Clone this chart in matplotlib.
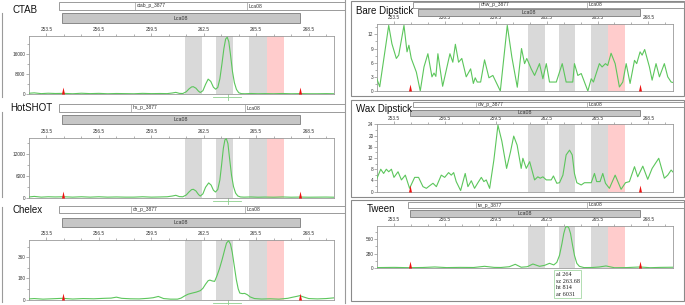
import numpy as np
import matplotlib
matplotlib.use("Agg")
import matplotlib.pyplot as plt
from matplotlib.patches import Rectangle
from matplotlib.lines import Line2D

plt.rcParams['font.family'] = ['Liberation Sans', 'DejaVu Sans']

# ---- shared axis data ----
x_range = (252.5, 269.95)
xtick_vals = [253.5, 256.5, 259.5, 262.5, 265.5, 268.5]
gray_bins = [(261.4, 262.4), (263.2, 264.2), (265.1, 266.1)]
pink_bin = (266.1, 267.1)
ladder_x = [254.42, 267.98]
ruler = (263.05, 264.65, 263.87)

# ---- traces ----
ctab_x = [252.5, 252.8, 253.2, 253.6, 254.0, 254.5, 255.0, 255.5, 256.0, 256.5,
          257.0, 257.5, 258.0, 258.5, 259.0, 259.5, 260.0, 260.4, 260.7, 260.9,
          261.1, 261.3, 261.5, 261.65, 261.8, 261.9, 262.05, 262.2, 262.3, 262.45,
          262.6, 262.75, 262.9, 263.05, 263.18, 263.3, 263.42, 263.54, 263.65, 263.75,
          263.84, 263.93, 264.03, 264.14, 264.25, 264.37, 264.5, 264.65, 264.85, 265.2,
          265.6, 266.0, 266.5, 267.0, 267.5, 268.0, 268.5, 269.0, 269.5, 269.95]
ctab_y = [300, 450, 150, 300, 200, 250, 100, 300, 150, 250,
          100, 200, 150, 100, 250, 150, 200, 150, 400, 650,
          250, 200, 900, 2000, 2800, 2900, 2300, 1100, 600, 1300,
          3800, 5900, 5000, 2700, 1900, 2600, 6000, 12000, 18000, 21800,
          22500, 20800, 15500, 9000, 4500, 1800, 500, 150, 100, 200,
          100, 150, 100, 200, 100, 150, 100, 100, 150, 100]

hs_x = [252.5, 252.8, 253.2, 253.6, 254.0, 254.5, 255.0, 255.5, 256.0, 256.5,
        257.0, 257.5, 258.0, 258.5, 259.0, 259.5, 260.0, 260.4, 260.7, 260.9,
        261.1, 261.3, 261.5, 261.65, 261.8, 261.9, 262.05, 262.2, 262.3, 262.45,
        262.6, 262.78, 262.92, 263.05, 263.17, 263.3, 263.42, 263.52, 263.62, 263.71,
        263.79, 263.88, 263.98, 264.09, 264.2, 264.32, 264.45, 264.6, 264.8, 265.2,
        265.6, 266.0, 266.5, 267.0, 267.5, 268.0, 268.5, 269.0, 269.5, 269.95]
hs_y = [150, 300, 100, 200, 150, 200, 100, 200, 100, 200,
        100, 150, 100, 100, 200, 100, 150, 200, 400, 600,
        250, 200, 700, 1500, 2150, 2250, 1800, 800, 400, 1000,
        2800, 4000, 3400, 2000, 1500, 2200, 4800, 9000, 13500, 15800,
        16100, 14800, 10500, 6000, 3000, 1200, 400, 150, 100, 150,
        80, 120, 80, 150, 80, 120, 80, 100, 120, 80]

ch_x = [252.5, 252.8, 253.3, 253.8, 254.4, 255.0, 255.6, 256.2, 256.8, 257.2,
        257.5, 257.8, 258.3, 258.8, 259.3, 259.6, 259.9, 260.2, 260.6, 261.0,
        261.2, 261.4, 261.6, 261.85, 262.07, 262.3, 262.45, 262.6, 262.75, 262.85,
        262.98, 263.12, 263.25, 263.4, 263.55, 263.69, 263.8, 263.92, 264.03, 264.13,
        264.25, 264.36, 264.47, 264.56, 264.7, 264.84, 265.0, 265.15, 265.4, 265.8,
        266.3, 266.8, 267.3, 267.6, 267.8, 268.0, 268.2, 268.5, 269.0, 269.5, 269.95]
ch_y = [5, 8, 3, 6, 10, 4, 8, 6, 10, 12,
        20, 10, 6, 5, 10, 15, 26, 8, 3, 3,
        12, 30, 45, 55, 63, 75, 95, 130, 160, 165,
        158, 154, 200, 263, 340, 420, 480, 500, 470, 400,
        280, 170, 90, 55, 50, 52, 40, 22, 8, 4,
        6, 3, 10, 20, 26, 33, 22, 8, 5, 8, 14]

bd_x = [252.46, 252.66, 253.19, 253.38, 253.64, 253.78, 254.09, 254.27, 254.38, 254.52,
        254.82, 255.05, 255.27, 255.5, 255.74, 255.86, 255.97, 256.09, 256.37, 256.8,
        256.97, 257.12, 257.31, 257.5, 257.76, 258.02, 258.18, 258.29, 258.41, 258.61,
        258.84, 259.1, 259.33, 259.77, 260.18, 260.45, 260.77, 261.02, 261.2, 261.33,
        261.59, 261.79, 262.08, 262.28, 262.48, 262.67, 263.07, 263.42, 263.65, 264.04,
        264.14, 264.34, 264.54, 264.73, 264.93, 265.13, 265.26, 265.42, 265.61, 265.77,
        265.97, 266.1, 266.3, 266.54, 266.79, 266.99, 267.19, 267.42, 267.68, 267.81,
        268.01, 268.13, 268.28, 268.56, 268.72, 268.95, 269.15, 269.44, 269.64, 269.84, 269.95]
bd_y = [2.9, 0.9, 13.9, 10.0, 6.9, 7.6, 13.9, 8.3, 9.7, 6.9,
        4.0, 0.0, 5.1, 7.9, 3.0, 3.8, 3.1, 7.9, 1.0, 7.9,
        6.1, 9.9, 6.1, 6.9, 3.0, 4.7, 1.6, 2.8, 1.9, 1.9,
        6.6, 2.8, 3.3, 0.0, 13.9, 7.2, 0.8, 9.0, 5.8, 6.9,
        4.7, 3.3, 5.8, 2.6, 5.8, 1.9, 1.9, 5.8, 1.9, 1.9,
        5.8, 3.3, 3.7, 1.9, 0.0, 2.6, 1.9, 3.7, 5.8, 5.1,
        5.8, 5.4, 8.0, 5.8, 0.85, 1.9, 5.8, 1.6, 6.5, 5.8,
        8.3, 7.6, 8.8, 5.1, 2.3, 5.8, 3.0, 5.8, 3.0, 1.9, 1.8]

wd_x = [252.46, 252.72, 252.89, 253.05, 253.19, 253.35, 253.5, 253.74, 253.94, 254.17,
        254.42, 254.72, 254.95, 255.21, 255.41, 255.6, 255.8, 256.0, 256.29, 256.49,
        256.72, 256.88, 257.02, 257.17, 257.43, 257.7, 257.86, 258.06, 258.25, 258.45,
        258.65, 258.8, 258.94, 259.14, 259.39, 259.63, 259.86, 260.14, 260.37, 260.56,
        260.76, 261.0, 261.1, 261.3, 261.5, 261.79, 261.98, 262.12, 262.28, 262.48,
        262.77, 262.9, 263.1, 263.26, 263.46, 263.65, 263.85, 264.01, 264.14, 264.28,
        264.54, 264.73, 265.13, 265.32, 265.45, 265.65, 265.81, 265.97, 266.2, 266.54,
        266.89, 267.15, 267.38, 267.68, 267.87, 268.17, 268.46, 268.72, 269.11, 269.44,
        269.64, 269.84, 269.95]
wd_y = [4.2, 8.0, 6.5, 8.0, 7.1, 8.0, 5.1, 7.1, 4.2, 5.9,
        1.2, 5.1, 5.1, 1.8, 1.2, 2.1, 3.0, 1.8, 5.9, 5.1,
        6.8, 5.9, 6.8, 3.6, 0.4, 6.5, 1.8, 3.9, 1.2, 3.2,
        5.1, 3.6, 4.2, 1.2, 11.3, 23.7, 18.0, 8.3, 14.2, 19.8,
        16.6, 8.3, 11.9, 8.3, 10.7, 4.2, 5.3, 4.8, 5.3, 4.2,
        4.2, 5.6, 3.0, 3.2, 5.9, 13.1, 14.8, 13.1, 6.5, 3.2,
        2.4, 3.2, 3.2, 6.5, 3.6, 3.6, 6.5, 3.0, 1.2, 5.9,
        0.85, 3.2, 3.6, 8.9, 5.3, 9.1, 4.4, 8.3, 11.9, 4.8,
        5.9, 7.7, 7.0]

tw_x = [252.5, 253.5, 254.4, 255.2, 255.9, 256.6, 257.4, 258.2, 258.84, 259.4,
        259.8, 260.3, 260.65, 261.0, 261.36, 261.69, 262.08, 262.38, 262.67, 262.92,
        263.1, 263.26, 263.4, 263.51, 263.61, 263.71, 263.81, 263.91, 264.02, 264.14,
        264.28, 264.43, 264.7, 265.2, 265.6, 266.0, 266.5, 267.2, 268.0, 268.6,
        269.2, 269.95]
tw_y = [8, 12, 6, 10, 20, 8, 12, 10, 33, 12,
        10, 25, 72, 15, 25, 78, 33, 52, 91, 60,
        110, 248, 470, 672, 790, 814, 780, 672, 460, 248,
        90, 33, 8, 10, 20, 40, 5, 8, 20, 6,
        12, 15]
tw_peak_info = ['al 264', 'sz 263.68', 'ht 814', 'ar 6031']

panels = [
    dict(title='CTAB', sample='ctab_p_3877', x=ctab_x, y=ctab_y, ymax=23000,
         yticks=[0, 8000, 16000], yminor=4000, plot=(29, 36, 334, 94),
         tpos=(12.5, 10), bar=(59, 2, 345, 10), seps=(135, 247),
         gbar=(62, 13, 300, 23), ruler=True, box=None),
    dict(title='HotSHOT', sample='hs_p_3877', x=hs_x, y=hs_y, ymax=16300,
         yticks=[0, 6000, 12000], yminor=3000, plot=(29, 138, 334, 197.5),
         tpos=(10, 107.5), bar=(59, 104, 345, 112), seps=(131, 245),
         gbar=(62, 114.5, 300, 124), ruler=True, box=None),
    dict(title='Chelex', sample='ch_p_3877', x=ch_x, y=ch_y, ymax=506,
         yticks=[0, 180, 360], yminor=90, plot=(29, 240, 334, 299.5),
         tpos=(12.5, 210), bar=(59, 205.5, 345, 213), seps=(131, 245),
         gbar=(62, 217.5, 300, 227), ruler=True, box=None),
    dict(title='Bare Dipstick', sample='dnw_p_3877', x=bd_x, y=bd_y, ymax=14.2,
         yticks=[0, 3, 6, 9, 12], yminor=1.5, plot=(377, 24, 673, 91),
         tpos=(356, 10.5), bar=(413, 1.5, 684, 7.5), seps=(479, 587),
         gbar=(418, 9, 640, 16), ruler=False, box=(351, 0.7, 684, 96)),
    dict(title='Wax Dipstick', sample='dw_p_3877', x=wd_x, y=wd_y, ymax=24,
         yticks=[0, 4, 8, 12, 16, 20, 24], yminor=2, plot=(377, 124.3, 673, 191.7),
         tpos=(356, 108.5), bar=(413, 101.7, 684, 107.3), seps=(476, 587),
         gbar=(410, 109.5, 640, 115.7), ruler=False, box=(351, 100, 684, 197)),
    dict(title='Tween', sample='tw_p_3877', x=tw_x, y=tw_y, ymax=825,
         yticks=[0, 280, 560], yminor=140, plot=(377, 225.7, 673, 268),
         tpos=(367, 208.5), bar=(408, 202.3, 684, 207.7), seps=(476, 587),
         gbar=(410, 210, 640, 216.7), ruler=False, box=(351, 200, 684, 301)),
]

W, H = 685, 305
fig = plt.figure(figsize=(W / 100, H / 100), dpi=100)


def fx(x):
    return x / W


def fy(y):
    return 1 - y / H


def rect(x0, y0, x1, y1, fc='none', ec='#9a9a9a', lw=0.6, z=1):
    fig.add_artist(Rectangle((fx(x0), fy(y1)), fx(x1) - fx(x0), fy(y0) - fy(y1),
                             transform=fig.transFigure, facecolor=fc,
                             edgecolor=ec, linewidth=lw, zorder=z))


def line(xs, ys, color='#9a9a9a', lw=0.6):
    fig.add_artist(Line2D([fx(v) for v in xs], [fy(v) for v in ys],
                          transform=fig.transFigure, color=color, linewidth=lw))


# left column frame lines
line([345, 345], [0, 303], lw=0.8)
for ya, yb in [(13, 97), (112, 197), (207, 302)]:
    line([1.5, 1.5], [ya, yb], lw=0.8)

tri = [(-0.65, 0), (0.65, 0), (0, 3)]
green = '#5cc65c'

for p in panels:
    if p['box']:
        rect(*p['box'], ec='#8a8a8a', lw=0.8)
    # top sample bar
    bx0, by0, bx1, by1 = p['bar']
    rect(bx0, by0, bx1, by1, fc='white', ec='#8a8a8a', lw=0.6)
    for s in p['seps']:
        line([s, s], [by0, by1], lw=0.5)
    fig.text(fx(p['seps'][0] + 2), fy((by0 + by1) / 2), p['sample'], fontsize=3.6,
             va='center', ha='left', color='#333333')
    fig.text(fx(p['seps'][1] + 2), fy((by0 + by1) / 2), 'Lca08', fontsize=3.6,
             va='center', ha='left', color='#333333')
    # marker bar
    gx0, gy0, gx1, gy1 = p['gbar']
    rect(gx0, gy0, gx1, gy1, fc='#c6c6c6', ec='#7a7a7a', lw=0.6)
    fig.text(fx((gx0 + gx1) / 2), fy((gy0 + gy1) / 2), 'Lca08', fontsize=3.8,
             va='center', ha='center', color='#333333')
    # title
    fig.text(fx(p['tpos'][0]), fy(p['tpos'][1]), p['title'], fontsize=7,
             va='center', ha='left', color='#111111', zorder=5)

    x0, y0, x1, y1 = p['plot']
    ax = fig.add_axes([fx(x0), fy(y1), fx(x1) - fx(x0), fy(y0) - fy(y1)])
    for lo, hi in gray_bins:
        ax.axvspan(lo, hi, color='#d9d9d9', lw=0, zorder=0)
    ax.axvspan(pink_bin[0], pink_bin[1], color='#ffcccc', lw=0, zorder=0)
    ax.plot(p['x'], p['y'], color=green, lw=0.8, zorder=3)
    ax.plot(ladder_x, [0] * len(ladder_x), ls='none', marker=tri, ms=10,
            color='#ee1111', mew=0, clip_on=False, zorder=4)
    if p['ruler']:
        tr = ax.get_xaxis_transform()
        ax.plot([ruler[0], ruler[1]], [-0.06, -0.06], color='#8fd08f', lw=0.6,
                transform=tr, clip_on=False)
        ax.plot([ruler[2], ruler[2]], [0, -0.11], color='#8fd08f', lw=0.6,
                transform=tr, clip_on=False)

    ax.set_xlim(*x_range)
    ax.set_ylim(0, p['ymax'])
    ax.xaxis.tick_top()
    ax.set_xticks(xtick_vals)
    ax.set_xticklabels([f'{v:.1f}' for v in xtick_vals])
    ax.set_xticks(np.arange(253.5, 270, 1.0), minor=True)
    ax.set_yticks(p['yticks'])
    ax.set_yticks(np.arange(0, p['ymax'], p['yminor']), minor=True)
    ax.tick_params(axis='both', which='major', length=2, width=0.4, pad=0.6,
                   labelsize=3.4, colors='#777777', labelcolor='#333333')
    ax.tick_params(axis='both', which='minor', length=1.2, width=0.4,
                   colors='#777777')
    for sp in ax.spines.values():
        sp.set_color('#9a9a9a')
        sp.set_linewidth(0.6)

# peak info box in the Tween panel
rect(554, 270, 581, 298, fc='white', ec='#a6d8a6', lw=0.6, z=5)
for i, s in enumerate(tw_peak_info):
    fig.text(fx(555.5), fy(274.5 + i * 6.7), s, fontsize=4.5, va='center',
             ha='left', family=['Liberation Serif', 'DejaVu Serif'],
             color='#222222', zorder=6)

fig.savefig('out.png', dpi=100)
